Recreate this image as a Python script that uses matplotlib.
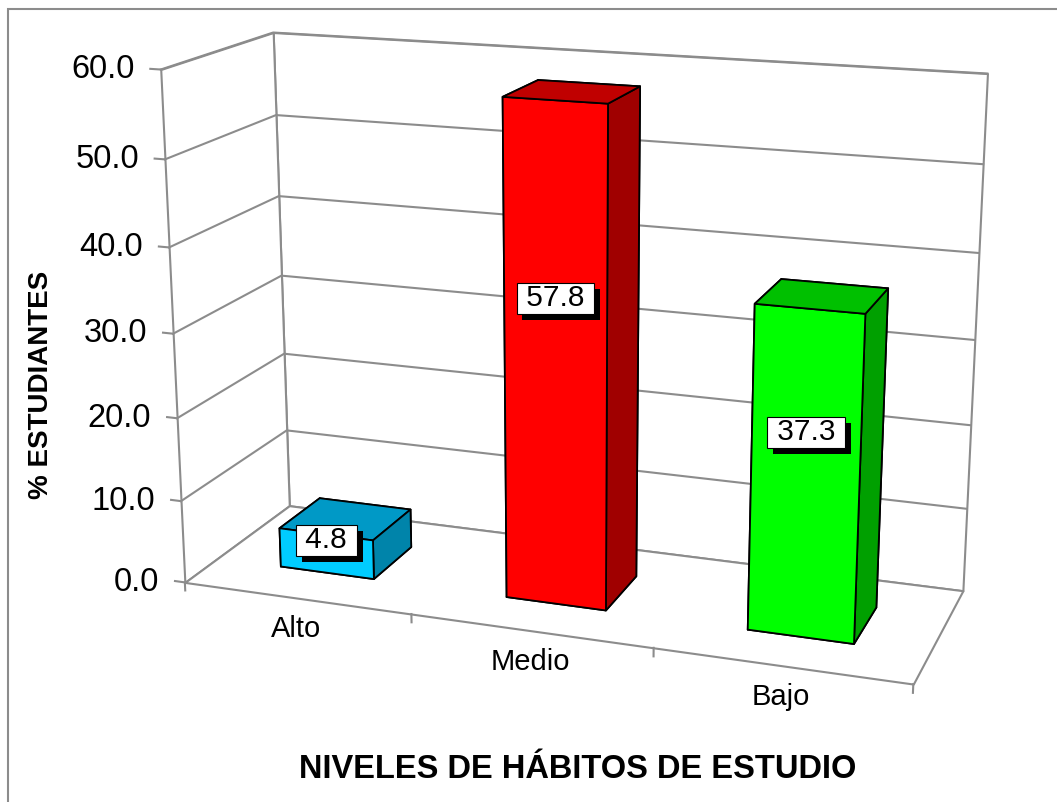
import matplotlib
matplotlib.use('Agg')
import matplotlib.pyplot as plt
from matplotlib import patheffects
from mpl_toolkits.mplot3d import proj3d
from mpl_toolkits.mplot3d.art3d import Poly3DCollection

# data
categories = ['Alto', 'Medio', 'Bajo']
values = [4.8, 57.8, 37.3]
z_ticks = [0, 10, 20, 30, 40, 50, 60]
tick_labels = ['0.0', '10.0', '20.0', '30.0', '40.0', '50.0', '60.0']
front_colors = ['#00CCFF', '#FF0000', '#00FF00']
top_colors = ['#0099C6', '#C00000', '#00C000']
side_colors = ['#0084AA', '#A00000', '#00A000']

plt.rcParams['font.family'] = ['Liberation Sans', 'DejaVu Sans']

W, H = 1057, 802
fig = plt.figure(figsize=(W / 100, H / 100), dpi=100)

# outer chart frame, cut at right and bottom like the screenshot
fig.patches.append(plt.Rectangle((8 / W, -0.1), 1.2, 1.1 - 9 / H,
                                 transform=fig.transFigure, fill=False,
                                 edgecolor='#8c8c8c', lw=1.5))

size = 900
cx, cy = 560, 349
ax = fig.add_axes([(cx - size / 2) / W, (H - cy - size / 2) / H, size / W, size / H],
                  projection='3d', computed_zorder=False)
ax.set_axis_off()
ax.set_proj_type('persp', focal_length=0.5)
ax.view_init(elev=16, azim=-70.5)
ax.set_box_aspect((760, 245, 533), zoom=1.04)

x0, x1 = 0.5, len(categories) + 0.5
y0, y1 = 0, 1
zmax = z_ticks[-1]
ax.set_xlim(x0, x1)
ax.set_ylim(y0, y1)
ax.set_zlim(0, zmax)

M = ax.get_proj()


def to2d(x, y, z):
    px, py, _ = proj3d.proj_transform(x, y, z, M)
    return px, py


grey = '#8c8c8c'
# walls and floor
walls = [
    [(x0, y1, 0), (x1, y1, 0), (x1, y1, zmax), (x0, y1, zmax)],
    [(x0, y0, 0), (x0, y1, 0), (x0, y1, zmax), (x0, y0, zmax)],
    [(x0, y0, 0), (x1, y0, 0), (x1, y1, 0), (x0, y1, 0)],
]
for w in walls:
    ax.add_collection3d(Poly3DCollection([w], facecolor='white', edgecolor=grey,
                                         linewidth=1.5, zorder=1))
for z in z_ticks[1:]:
    ax.plot([x0, x0, x1], [y0, y1, y1], [z, z, z], color=grey, lw=1.5, zorder=1)

# tick marks
for z in z_ticks:
    ax.plot([x0 - 0.045, x0], [y0, y0], [z, z], color=grey, lw=1.5, zorder=1)
for i in range(len(categories) + 1):
    ax.plot([x0 + i, x0 + i], [y0, y0], [0, -1], color=grey, lw=1.5, zorder=1)

# tick labels
for z, lab in zip(z_ticks, tick_labels):
    ax.annotate(lab, to2d(x0, y0, z), xytext=(-26, 0), textcoords='offset pixels',
                ha='right', va='center', fontsize=23.5, zorder=5, annotation_clip=False)
for i, cat in enumerate(categories):
    ax.annotate(cat, to2d(i + 1, y0, 0), xytext=(0, -17), textcoords='offset pixels',
                ha='center', va='top', fontsize=21, zorder=5, annotation_clip=False)

# bars
bw, bd, by = 0.42, 0.4, 0.3
for i, v in enumerate(values):
    cols = [front_colors[i], top_colors[i], front_colors[i], front_colors[i],
            front_colors[i], side_colors[i]]
    ax.bar3d(i + 1 - bw / 2, by, 0, bw, bd, v, color=cols, shade=False,
             edgecolor='black', linewidth=1.3, zorder=3 + i)

# data labels
for i, v in enumerate(values):
    t = ax.annotate(f' {v:.1f} ', to2d(i + 1, by, 0.6 * v + 1.2), ha='center', va='center',
                    fontsize=21.5, zorder=10, annotation_clip=False,
                    bbox=dict(boxstyle='square,pad=0.05', fc='white', ec='black', lw=0.8))
    t.get_bbox_patch().set_path_effects([
        patheffects.SimplePatchShadow(offset=(4.3, -4.3), shadow_rgbFace='black', alpha=1),
        patheffects.Normal()])

fig.text(41 / W, 1 - 385 / H, '% ESTUDIANTES', rotation=90, ha='center', va='center',
         fontsize=20, fontweight='bold')
fig.text(578 / W, 1 - 770 / H, 'NIVELES DE HÁBITOS DE ESTUDIO', ha='center', va='center',
         fontsize=23.5, fontweight='bold')

fig.savefig('out.png', dpi=100)
